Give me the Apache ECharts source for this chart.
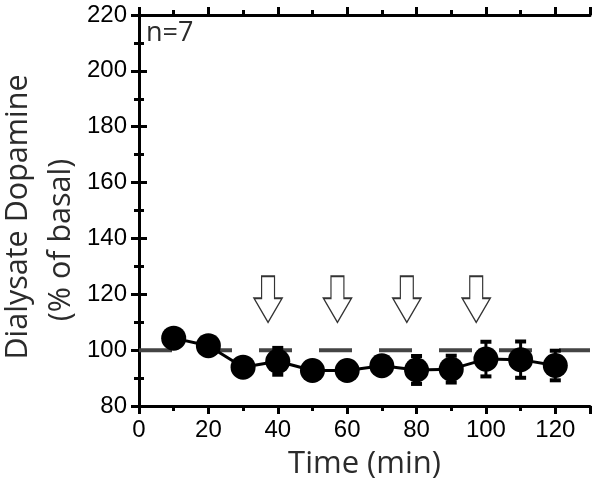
<!DOCTYPE html>
<html>
<head>
<meta charset="utf-8">
<script src="https://cdn.jsdelivr.net/npm/echarts@6/dist/echarts.min.js"></script>
<style>html,body{margin:0;padding:0;background:#fff;}#c{width:600px;height:489px;}</style>
</head>
<body>
<div id="c"></div>
<script>
// ---- data ----
var times = [10, 20, 30, 40, 50, 60, 70, 80, 90, 100, 110, 120];
var means = [104.3, 101.6, 93.9, 96.0, 92.7, 92.7, 94.4, 92.9, 93.2, 96.8, 96.6, 94.5];
var errs  = [3, 3, 3, 4.8, 3, 3, 3, 5.0, 4.8, 6.2, 6.5, 5.3];
var arrowTimes = [37.2, 57.2, 77.2, 97.2];
var arrowLevel = 118.2;
var baselineX = [0, 130];
var baselineY = 100;
var xTicksMajor = [0, 20, 40, 60, 80, 100, 120];
var yTicks = [80, 100, 120, 140, 160, 180, 200, 220];

var chart = echarts.init(document.getElementById('c'), null, {renderer: 'canvas'});

var lineData = times.map(function (t, i) { return [t, means[i]]; });
var errData = times.map(function (t, i) { return [t, means[i] - errs[i], means[i] + errs[i]]; });
var arrowData = arrowTimes.map(function (t) { return [t, arrowLevel]; });
var baseData = baselineX.map(function (x) { return [x, baselineY]; });

var tickFont = 'Liberation Sans';
var titleFont = 'Open Sans';

function xAx(pos, interval, len, showLine, showLabel) {
  return {
    type: 'value', position: pos, min: 0, max: 130, interval: interval,
    axisLine: {show: showLine, lineStyle: {color: '#000', width: 3}},
    axisTick: {show: true, inside: false, length: len, lineStyle: {color: '#000', width: 3}},
    axisLabel: {show: showLabel, color: '#000', fontFamily: tickFont, fontSize: 24, margin: 12,
      formatter: function (v) { return xTicksMajor.indexOf(v) >= 0 ? String(v) : ''; }},
    splitLine: {show: false}
  };
}
function yAx(pos, showLabel) {
  return {
    type: 'value', position: pos, min: yTicks[0], max: yTicks[yTicks.length - 1], interval: 20,
    axisLine: {show: true, lineStyle: {color: '#000', width: 3}},
    axisTick: {show: true, inside: false, length: 8, lineStyle: {color: '#000', width: 3}},
    minorTick: {show: true, splitNumber: 2, length: 5, lineStyle: {color: '#000', width: 3}},
    axisLabel: {show: showLabel, color: '#000', fontFamily: tickFont, fontSize: 24, margin: 12},
    splitLine: {show: false}, minorSplitLine: {show: false}
  };
}

var xa0 = xAx('bottom', 20, 8, true, true);
xa0.name = 'Time (min)';
xa0.nameLocation = 'middle';
xa0.nameGap = 43;
xa0.nameTextStyle = {fontFamily: titleFont, fontSize: 31, color: '#2b2b2b'};

var option = {
  animation: false,
  backgroundColor: '#fff',
  grid: {left: 139, right: 10, top: 15, bottom: 83, containLabel: false},
  xAxis: [
    xa0,
    xAx('bottom', 10, 5, false, false),
    xAx('top', 20, 8, true, false),
    xAx('top', 10, 5, false, false)
  ],
  yAxis: [yAx('left', true), yAx('right', false)],
  graphic: [
    {type: 'text', left: 146, top: 20, z: 100,
     style: {text: 'n=7', font: '27px "Open Sans"', fill: '#2b2b2b'}},
    {type: 'text', x: 18, y: 217, rotation: Math.PI / 2, z: 100,
     style: {text: 'Dialysate Dopamine', font: '30.5px "Open Sans"', fill: '#2b2b2b',
             align: 'center', verticalAlign: 'middle'}},
    {type: 'text', x: 61, y: 240, rotation: Math.PI / 2, z: 100,
     style: {text: '(% of basal)', font: '30.5px "Open Sans"', fill: '#2b2b2b',
             align: 'center', verticalAlign: 'middle'}}
  ],
  series: [
    {
      type: 'line', data: baseData, xAxisIndex: 0, yAxisIndex: 0, symbol: 'none', z: 1,
      lineStyle: {color: '#444', width: 4, type: [33, 27], dashOffset: 0}, silent: true
    },
    {
      type: 'custom', data: errData, xAxisIndex: 0, yAxisIndex: 0, z: 2,
      renderItem: function (params, api) {
        var x = api.value(0);
        var lo = api.coord([x, api.value(1)]);
        var hi = api.coord([x, api.value(2)]);
        var cw = 5.5;
        return {
          type: 'group',
          children: [
            {type: 'line', shape: {x1: lo[0], y1: lo[1], x2: hi[0], y2: hi[1]}, style: {stroke: '#000', lineWidth: 3}},
            {type: 'line', shape: {x1: lo[0] - cw, y1: lo[1], x2: lo[0] + cw, y2: lo[1]}, style: {stroke: '#000', lineWidth: 4}},
            {type: 'line', shape: {x1: hi[0] - cw, y1: hi[1], x2: hi[0] + cw, y2: hi[1]}, style: {stroke: '#000', lineWidth: 4}}
          ]
        };
      }
    },
    {
      type: 'line', data: lineData, xAxisIndex: 0, yAxisIndex: 0, z: 3,
      symbol: 'circle', symbolSize: 25, showSymbol: true,
      lineStyle: {color: '#000', width: 3},
      itemStyle: {color: '#000', borderWidth: 0}
    },
    {
      type: 'scatter', data: arrowData, xAxisIndex: 0, yAxisIndex: 0, z: 4,
      symbol: 'path://M8,0 L20,0 L20,22 L27,22 L14,46 L1,22 L8,22 Z',
      symbolSize: [28, 46],
      itemStyle: {color: '#fff', borderColor: '#000', borderWidth: 1.5}
    }
  ]
};
chart.setOption(option);
</script>
</body>
</html>
